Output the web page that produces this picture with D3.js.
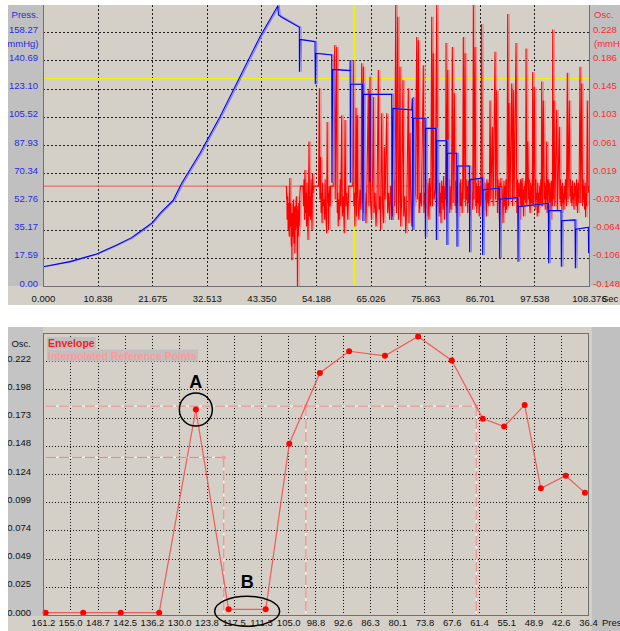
<!DOCTYPE html>
<html><head><meta charset="utf-8">
<script src="https://cdn.jsdelivr.net/npm/d3@7"></script>
<style>
html,body{margin:0;padding:0;background:#fff;}
svg{display:block;font-family:"Liberation Sans",Arial,sans-serif;}
</style></head>
<body>
<svg id="c" width="620" height="631"></svg>
<script>
// ---------- DATA: top chart (pressure + oscillation vs time) ----------
const timeTicks = ["0.000","10.838","21.675","32.513","43.350","54.188","65.026","75.863","86.701","97.538","108.376"];
const pressTicks = ["0.00","17.59","35.17","52.76","70.34","87.93","105.52","123.10","140.69","158.27"];
const oscTicksTop = ["-0.148","-0.106","-0.064","-0.023","0.019","0.061","0.103","0.145","0.186","0.228"];
const cursorTime = 61.8;      // yellow vertical cursor (s)
const cursorPress = 129.5;    // yellow horizontal cursor (mmHg)

// cuff pressure [time s, mmHg]
const pressSignal = [[0,12.0],[5.36,15.2],[10.66,20.0],[14.63,25.6],[17.5,30.0],[19.91,35.4],[21.7,39.5],[23.22,45.3],[25.86,53.6],[27.53,64.1],[29.52,74.4],[31.16,82.8],[35.13,105.6],[39.10,130.5],[43.07,155.5],[46.59,174.6],[46.75,169.0],[47.38,167.6],[50.88,161.3],[50.9,133.6],[51.0,153.8],[53.99,152.4],[54.05,125.8],[54.15,145.1],[57.31,144.1],[57.35,64.4],[57.5,135.1],[60.94,134.3],[60.97,140.9],[61.0,64.4],[61.05,125.8],[63.46,125.8],[63.5,40.5],[63.6,119.5],[64.85,119.5],[64.9,65.0],[64.95,119.5],[69.22,119.5],[69.25,41.2],[69.48,110.8],[73.2,109.8],[73.31,117.1],[73.4,34.9],[73.5,104.6],[75.83,104.6],[75.9,30.4],[75.97,98.3],[78.01,98.3],[78.08,28.7],[78.15,90.6],[80.13,90.6],[80.18,25.6],[80.25,82.8],[82.12,82.8],[82.18,24.5],[82.24,74.8],[84.62,74.8],[84.68,21.0],[84.76,66.1],[87.2,67.4],[87.27,19.3],[87.34,59.9],[90.58,61.1],[90.65,17.3],[90.72,54.1],[94.23,55.1],[94.29,15.2],[94.35,49.5],[100.30,51.6],[100.37,14.2],[100.44,47.0],[102.82,47.0],[102.89,12.0],[102.96,40.7],[105.60,41.2],[105.67,11.0],[105.74,35.4],[108.24,36.6],[108.3,20.4]];

// oscillation signal [time s, mmHg]
const oscSignal = [[48.3,0],[48.35,-0.02],[48.4,-0.010],[48.45,-0.050],[48.5,-0.040],[48.55,-0.015],[48.6,-0.020],[48.65,-0.065],[48.7,-0.060],[48.75,-0.025],[48.8,-0.030],[48.85,-0.070],[48.9,-0.075],[48.95,-0.010],[49.0,0.012],[49.05,-0.060],[49.1,-0.050],[49.15,-0.030],[49.2,-0.025],[49.25,-0.080],[49.3,-0.090],[49.35,-0.040],[49.4,-0.110],[49.45,-0.050],[49.5,-0.040],[49.55,-0.075],[49.6,-0.070],[49.65,-0.030],[49.7,-0.020],[49.75,-0.065],[49.8,-0.085],[49.85,-0.030],[49.9,-0.045],[49.95,-0.070],[50.0,-0.100],[50.05,-0.040],[50.1,-0.030],[50.15,-0.065],[50.2,-0.060],[50.25,-0.020],[50.3,-0.015],[50.35,-0.060],[50.4,-0.055],[50.45,-0.030],[50.5,-0.148],[50.55,-0.050],[50.6,-0.035],[50.65,-0.075],[50.7,-0.070],[50.75,-0.030],[50.8,-0.025],[50.85,-0.060],[50.9,-0.050],[50.95,-0.020],[51.0,-0.010],[51.1,0],[51.6,0],
[51.7,-0.030],[51.8,0.010],[51.9,-0.050],[52.0,0.024],[52.1,-0.040],[52.2,-0.010],[52.3,-0.060],[52.4,0.005],[52.5,-0.035],[52.6,-0.080],[52.7,-0.020],[52.8,0.066],[52.9,-0.045],[53.0,-0.015],[53.1,-0.050],[53.2,0.010],[53.3,-0.030],[53.4,-0.065],[53.5,0.019],[53.6,-0.010],[53.7,0],[54.7,0],
[54.85,0.145],[54.95,-0.020],[55.1,0.043],[55.2,-0.040],[55.3,-0.010],[55.4,-0.055],[55.5,0.005],[55.6,-0.030],[55.8,-0.020],[55.9,-0.050],[56.0,0.010],[56.1,-0.035],[56.3,-0.070],[56.4,0.095],[56.5,-0.025],[56.6,-0.010],[56.7,-0.065],[56.8,0.000],[57.0,-0.030],[57.1,0],[57.6,0],
[57.9,0.209],[58.0,-0.020],[58.3,0.206],[58.4,-0.040],[58.5,-0.010],[58.6,-0.060],[58.7,-0.020],[58.8,-0.050],[59.0,0.010],[59.1,-0.030],[59.29,0.105],[59.4,-0.045],[59.6,-0.015],[59.8,-0.070],[59.95,0.098],[60.1,-0.030],[60.3,-0.010],[60.5,-0.050],[60.7,0],[61.4,0],
[61.6,0.187],[61.7,-0.030],[61.8,-0.010],[61.9,-0.060],[62.0,-0.020],[62.13,0.116],[62.25,-0.045],[62.39,0.105],[62.5,-0.015],[62.7,-0.050],[62.9,-0.005],[63.1,-0.035],[63.26,0.182],[63.4,-0.025],[63.58,0.177],[63.7,-0.040],[63.9,-0.010],[64.1,-0.055],[64.3,0.005],[64.57,0.142],[64.7,-0.030],[64.91,0.162],[65.0,-0.020],[65.2,-0.050],[65.4,0.010],[65.57,0.132],[65.7,-0.040],[65.9,-0.010],[66.1,-0.060],[66.3,-0.020],[66.56,0.172],[66.7,-0.035],[66.9,-0.015],[67.0,-0.065],[67.23,0.108],[67.4,-0.030],[67.6,-0.055],[67.75,0.058],[67.9,-0.020],[68.22,0.108],[68.4,-0.040],[68.6,-0.010],[68.8,-0.050],[69.0,0.000],[69.2,-0.030],[69.4,-0.045],[69.6,0.010],[69.8,-0.030],
[70.01,0.270],[70.15,-0.040],[70.41,0.251],[70.55,-0.050],[70.7,-0.010],[70.86,0.177],[71.0,-0.060],[71.2,-0.020],[71.46,0.157],[71.6,-0.045],[71.8,-0.015],[72.0,-0.070],[72.2,-0.030],[72.51,0.145],[72.65,-0.055],[72.85,0.079],[73.0,-0.020],[73.2,-0.060],[73.5,0.132],[73.65,-0.030],[73.9,-0.010],[74.18,0.221],[74.3,-0.020],[74.5,0.216],[74.65,-0.040],[74.9,-0.010],[75.1,-0.030],[75.49,0.179],[75.6,-0.040],[75.8,-0.010],
[76.0,-0.035],[76.1,0.010],[76.2,-0.020],[76.3,-0.045],[76.4,0.005],[76.5,-0.020],[76.6,-0.050],[76.7,0.012],[76.8,-0.010],[76.9,-0.030],[77.0,0.005],
[77.16,0.251],[77.3,-0.030],[77.47,0.197],[77.6,-0.020],[77.9,-0.005],[78.15,0.270],
[78.3,-0.030],[78.4,0.010],[78.5,-0.015],[78.6,-0.045],[78.7,0.005],[78.8,-0.040],[78.9,-0.010],[79.0,-0.055],[79.1,0.008],[79.2,-0.025],[79.3,0.000],[79.4,-0.035],[79.5,0.015],[79.6,-0.020],[79.7,-0.050],[79.8,0.000],[79.9,-0.020],
[80.0,0.212],[80.15,-0.030],[80.33,0.172],
[80.5,-0.020],[80.6,0.010],[80.7,-0.040],[80.8,0.000],[80.9,-0.025],[81.0,-0.035],[81.1,0.005],
[81.25,0.206],[81.4,-0.025],[81.64,0.138],
[81.8,-0.030],[81.9,0.008],[82.0,-0.040],[82.1,0.000],[82.2,-0.025],[82.3,0.012],[82.4,-0.020],[82.5,-0.045],[82.6,0.005],[82.7,0.000],[82.8,-0.030],[82.9,0.010],[83.0,-0.030],[83.1,-0.010],[83.2,-0.040],[83.3,0.000],
[83.43,0.221],[83.55,-0.020],[83.77,0.197],
[83.9,-0.030],[84.0,0.010],[84.1,-0.020],[84.2,0.000],[84.3,-0.040],[84.4,0.008],[84.5,-0.025],[84.6,-0.005],[84.7,-0.045],[84.8,0.000],[84.9,-0.020],[85.0,0.012],[85.1,-0.030],[85.2,-0.010],[85.3,-0.035],
[85.42,0.270],[85.55,-0.020],[85.75,0.206],
[85.9,-0.030],[86.0,0.005],[86.1,-0.040],[86.2,0.000],[86.3,-0.025],[86.4,0.010],[86.5,-0.020],[86.6,-0.045],[86.7,0.000],[86.8,-0.015],[86.9,-0.030],
[87.04,0.240],
[87.2,-0.020],[87.3,0.010],[87.4,0.000],[87.5,-0.030],[87.6,-0.036],[87.7,0.005],[87.8,-0.020],[87.9,-0.010],[88.0,-0.045],[88.1,0.010],[88.2,0.000],[88.3,-0.025],[88.4,0.005],[88.5,-0.030],[88.6,-0.010],
[88.73,0.127],[88.9,-0.020],[89.19,0.088],[89.35,-0.030],[89.72,0.199],[89.85,-0.020],[90.06,0.142],
[90.2,-0.040],[90.3,0.010],[90.4,-0.020],[90.5,0.000],[90.6,-0.050],[90.7,0.005],[90.8,-0.025],[90.9,0.012],[91.0,-0.035],[91.1,0.000],[91.2,-0.020],[91.3,-0.055],[91.4,-0.020],[91.5,0.008],[91.6,-0.030],[91.7,0.000],[91.8,-0.040],[91.9,0.010],[92.0,-0.035],[92.1,-0.010],
[92.24,0.255],[92.4,-0.030],[92.5,0.123],[92.7,-0.020],[93.04,0.152],[93.2,-0.030],[93.35,0.142],[93.5,-0.020],[93.89,0.212],
[94.05,-0.040],[94.15,0.010],[94.3,0.000],[94.4,-0.035],[94.5,0.005],[94.6,-0.025],[94.7,-0.050],[94.8,0.010],[94.9,0.000],[95.0,-0.030],[95.1,0.012],[95.2,-0.030],[95.3,-0.005],[95.4,-0.045],[95.5,0.000],[95.6,-0.020],[95.7,0.008],[95.8,-0.025],
[95.88,0.204],[96.05,-0.030],[96.21,0.066],
[96.4,-0.020],[96.5,0.010],[96.6,-0.030],[96.7,-0.040],[96.8,0.005],[96.9,-0.025],[97.0,0.000],[97.1,-0.030],
[97.2,0.169],[97.35,-0.030],[97.52,0.147],
[97.7,-0.035],[97.8,0.010],[97.9,-0.020],[98.0,-0.010],[98.1,-0.045],[98.2,0.005],[98.3,-0.040],[98.4,-0.010],[98.5,-0.030],[98.6,0.000],[98.7,-0.025],[98.8,0.010],[98.9,-0.030],
[98.99,0.155],[99.15,-0.030],[99.31,0.127],
[99.5,-0.020],[99.6,0.005],[99.7,-0.035],[99.8,0.000],[99.9,-0.020],[99.98,0.066],[100.05,-0.040],[100.15,-0.030],[100.25,0.010],[100.4,0.000],[100.5,-0.035],[100.6,0.005],[100.7,-0.025],[100.8,-0.050],[100.9,0.008],[101.0,0.000],[101.1,-0.030],
[101.18,0.232],[101.3,-0.020],[101.43,0.127],[101.6,-0.030],[101.97,0.113],[102.1,-0.036],[102.49,0.088],
[102.6,-0.020],[102.7,0.010],[102.8,-0.030],[102.9,0.000],[103.0,-0.040],[103.1,0.005],[103.2,-0.025],[103.3,-0.010],[103.4,-0.035],[103.5,0.000],[103.6,-0.020],[103.7,0.010],[103.8,-0.010],[103.9,-0.030],
[104.07,0.168],[104.2,-0.020],[104.47,0.127],
[104.6,-0.015],[104.7,0.010],[104.8,-0.025],[104.9,0.000],[105.0,-0.030],[105.1,0.008],[105.2,-0.020],[105.3,-0.010],[105.4,-0.035],[105.5,0.005],[105.6,-0.015],[105.7,0.000],[105.8,-0.030],[105.9,0.010],[106.0,-0.020],[106.1,-0.040],[106.2,0.005],[106.3,0.000],[106.4,-0.025],
[106.59,0.177],[106.75,-0.025],[106.93,0.152],
[107.1,-0.030],[107.2,0.010],[107.3,-0.020],[107.4,0.000],[107.5,-0.035],[107.6,0.005],[107.7,-0.046],[107.8,-0.010],[107.9,-0.030],
[108.04,0.127],[108.2,-0.010],[108.376,0.000]];

// ---------- DATA: bottom chart (envelope vs pressure) ----------
const envTicksX = ["161.2","155.0","148.7","142.5","136.2","130.0","123.8","117.5","111.3","105.0","98.8","92.6","86.3","80.1","73.8","67.6","61.4","55.1","48.9","42.6","36.4"];
const envTicksY = ["0.000","0.025","0.049","0.074","0.099","0.124","0.148","0.173","0.198","0.222"];
const envPress = [160.6,152.0,143.4,134.6,126.2,118.7,110.2,104.8,97.8,91.1,82.9,75.3,67.6,60.5,55.6,50.9,47.2,41.5,37.1];
const envOsc   = [0.002,0.002,0.002,0.002,0.180,0.005,0.005,0.150,0.212,0.231,0.227,0.244,0.223,0.172,0.165,0.184,0.111,0.122,0.107];
const refPress = [119.8,101.0,62.0];
const refOsc   = [0.138,0.183,0.183];
const legendLabels = ["Envelope","Interpolated Reference Points"];
const annotLabels = ["A","B"];

// ---------- DRAW ----------
const svg = d3.select("#c");
const F = 9.5;

svg.append("clipPath").attr("id","clipLeft").append("rect").attr("x",8).attr("y",0).attr("width",612).attr("height",631);
svg.append("clipPath").attr("id","clipRow").append("rect").attr("x",31).attr("y",0).attr("width",589).attr("height",631);

// ===== TOP PANEL =====
const T = {l:43, r:589, t:5, b:286};
const xT = d3.scaleLinear([0,108.376],[T.l,T.r]);
const yP = d3.scaleLinear([0,175.86],[T.b,4]);
const yO = d3.scaleLinear([-0.148,0.2698],[T.b,4]);

svg.append("rect").attr("x",8).attr("y",T.t).attr("width",T.l-8).attr("height",T.b-T.t).attr("fill","#c0c0c0");
svg.append("rect").attr("x",T.r).attr("y",T.t).attr("width",620-T.r).attr("height",T.b-T.t).attr("fill","#c0c0c0");
svg.append("rect").attr("x",8).attr("y",T.b).attr("width",612).attr("height",19).attr("fill","#d4d0c8");
svg.append("rect").attr("x",T.l).attr("y",T.t).attr("width",T.r-T.l).attr("height",T.b-T.t).attr("fill","#d4d0c8");

const gT = svg.append("g");
const tStep = 108.376/10, pStep = 175.86/10;
gT.selectAll("line.hg").data(d3.range(1,10)).join("line")
  .attr("x1",T.l).attr("x2",T.r).attr("y1",d=>Math.round(yP(d*pStep))+0.5).attr("y2",d=>Math.round(yP(d*pStep))+0.5)
  .attr("stroke","#222").attr("stroke-dasharray","2,2").attr("shape-rendering","crispEdges");
gT.selectAll("line.vg").data(d3.range(1,10)).join("line")
  .attr("y1",T.t).attr("y2",T.b).attr("x1",d=>Math.round(xT(d*tStep))+0.5).attr("x2",d=>Math.round(xT(d*tStep))+0.5)
  .attr("stroke","#222").attr("stroke-dasharray","2,2").attr("shape-rendering","crispEdges");

svg.append("clipPath").attr("id","clipT").append("rect").attr("x",T.l).attr("y",T.t).attr("width",T.r-T.l).attr("height",T.b-T.t);
const pT = svg.append("g").attr("clip-path","url(#clipT)");
pT.append("line").attr("x1",T.l).attr("x2",T.r).attr("y1",Math.round(yP(cursorPress))+0.5).attr("y2",Math.round(yP(cursorPress))+0.5).attr("stroke","#f4f400").attr("stroke-width",1.2);
pT.append("line").attr("y1",T.t).attr("y2",T.b).attr("x1",Math.round(xT(cursorTime))+0.5).attr("x2",Math.round(xT(cursorTime))+0.5).attr("stroke","#f4f400").attr("stroke-width",1.2);
pT.append("line").attr("x1",T.l).attr("x2",T.r).attr("y1",yO(0)).attr("y2",yO(0)).attr("stroke","#f06a6a").attr("stroke-width",1.3);

const lineO = d3.line().x(d=>xT(d[0])).y(d=>yO(d[1]));
const lineP = d3.line().x(d=>xT(d[0])).y(d=>yP(d[1]));
pT.append("path").attr("d",lineO(oscSignal)).attr("fill","none").attr("stroke","#f08a8a").attr("stroke-width",1.2).attr("transform","translate(1.6,0)");
pT.append("path").attr("d",lineO(oscSignal)).attr("fill","none").attr("stroke","#ff0000").attr("stroke-width",1.1);
pT.append("path").attr("d",lineP(pressSignal)).attr("fill","none").attr("stroke","#8080ff").attr("stroke-width",1.2).attr("transform","translate(1.6,0)");
pT.append("path").attr("d",lineP(pressSignal)).attr("fill","none").attr("stroke","#0000ee").attr("stroke-width",1.1);

svg.append("line").attr("x1",T.l+0.5).attr("x2",T.l+0.5).attr("y1",T.t).attr("y2",T.b+1).attr("stroke","#707070");
svg.append("line").attr("x1",T.l).attr("x2",T.r+1).attr("y1",T.b+0.5).attr("y2",T.b+0.5).attr("stroke","#707070");
svg.append("line").attr("x1",T.r+0.5).attr("x2",T.r+0.5).attr("y1",T.t).attr("y2",T.b+1).attr("stroke","#707070");

const wrapL = svg.append("g").attr("clip-path","url(#clipLeft)");
const axL = wrapL.append("g").attr("transform",`translate(${T.l},-3)`)
  .call(d3.axisLeft(yP).tickValues(d3.range(0,10).map(i=>i*pStep)).tickFormat((d,i)=>pressTicks[i]).tickSize(0).tickPadding(5));
axL.select(".domain").remove();
axL.selectAll("text").attr("fill","#2a2ae0").style("font-size",F+"px");
const axR = svg.append("g").attr("transform",`translate(${T.r},-3)`)
  .call(d3.axisRight(yO).tickValues(d3.range(0,10).map(i=>-0.148+i*0.041778)).tickFormat((d,i)=>oscTicksTop[i]).tickSize(0).tickPadding(4));
axR.select(".domain").remove();
axR.selectAll("text").attr("fill","#ff2a2a").style("font-size",F+"px");
const axB = svg.append("g").attr("transform",`translate(0,${T.b})`)
  .call(d3.axisBottom(xT).tickValues(d3.range(0,11).map(i=>i*tStep)).tickFormat((d,i)=>timeTicks[i]).tickSize(0).tickPadding(9));
axB.select(".domain").remove();
axB.selectAll("text").attr("fill","#111").style("font-size",F+"px");
svg.append("text").attr("x",602).attr("y",302).attr("font-size",F).attr("fill","#111").text("Sec");
wrapL.append("text").attr("x",38.5).attr("y",17.5).attr("text-anchor","end").attr("font-size",F).attr("fill","#2a2ae0").text("Press.");
wrapL.append("text").attr("x",38.5).attr("y",46.5).attr("text-anchor","end").attr("font-size",F).attr("fill","#2a2ae0").text("(mmHg)");
svg.append("text").attr("x",594).attr("y",17.5).attr("font-size",F).attr("fill","#ff2a2a").text("Osc.");
svg.append("text").attr("x",594).attr("y",46.5).attr("font-size",F).attr("fill","#ff2a2a").text("(mmHg)");

// ===== BOTTOM PANEL =====
const B = {l:43, r:588, t:333, b:615};
const xB = d3.scaleLinear([161.2,36.4],[B.l,B.r]);
const yB = d3.scaleLinear([0,0.247],[B.b,B.t]);
svg.append("rect").attr("x",8).attr("y",327).attr("width",592-8).attr("height",631-327).attr("fill","#d4d0c8");
svg.append("rect").attr("x",8).attr("y",327).attr("width",B.l-8).attr("height",B.b-327+1).attr("fill","#c4c4c4");
svg.append("rect").attr("x",592).attr("y",327).attr("width",28).attr("height",304).attr("fill","#c0c0c0");

const xStep = (161.2-36.4)/20, yStep = 0.247/10;
const gB = svg.append("g");
gB.selectAll("line.hg").data(d3.range(1,10)).join("line")
  .attr("x1",B.l).attr("x2",B.r).attr("y1",d=>Math.round(yB(d*yStep))+0.5).attr("y2",d=>Math.round(yB(d*yStep))+0.5)
  .attr("stroke","#111").attr("stroke-dasharray","1,2").attr("shape-rendering","crispEdges");
gB.selectAll("line.vg").data(d3.range(1,20)).join("line")
  .attr("y1",B.t).attr("y2",B.b).attr("x1",d=>Math.round(xB(161.2-d*xStep))+0.5).attr("x2",d=>Math.round(xB(161.2-d*xStep))+0.5)
  .attr("stroke","#111").attr("stroke-dasharray","1,2").attr("shape-rendering","crispEdges");

const refG = svg.append("g");
const hRefs = [{p:refPress[0],o:refOsc[0]},{p:refPress[2],o:refOsc[2]}];
function dashed(x1,y1,x2,y2){
  refG.append("line").attr("x1",x1).attr("y1",y1).attr("x2",x2).attr("y2",y2).attr("stroke","#f6f6f6").attr("stroke-width",1.3);
  refG.append("line").attr("x1",x1).attr("y1",y1).attr("x2",x2).attr("y2",y2).attr("stroke","#f08888").attr("stroke-width",1.3).attr("stroke-dasharray","10,3");
}
hRefs.forEach(r=>dashed(B.l+3, yB(r.o), xB(r.p), yB(r.o)));
refPress.forEach((p,i)=>dashed(xB(p), yB(refOsc[i]), xB(p), B.b));
refG.selectAll("circle").data(refPress).join("circle").attr("cx",d=>xB(d)).attr("cy",(d,i)=>yB(refOsc[i])).attr("r",2).attr("fill","#f29a9a");

const env = envPress.map((p,i)=>[p,envOsc[i]]);
svg.append("path").attr("d",d3.line().x(d=>xB(d[0])).y(d=>yB(d[1]))(env)).attr("fill","none").attr("stroke","#f05a5a").attr("stroke-width",1.2);
svg.selectAll("circle.env").data(env).join("circle").attr("class","env").attr("cx",d=>xB(d[0])).attr("cy",d=>yB(d[1])).attr("r",3).attr("fill","#ff0000");

svg.append("rect").attr("x",B.l+0.5).attr("y",B.t+0.5).attr("width",B.r-B.l).attr("height",B.b-B.t).attr("fill","none").attr("stroke","#707070");

const lg = svg.append("g");
const lgColors = ["#ff1a1a","#ff9a9a"];
legendLabels.forEach((t,i)=>{
  const tx = lg.append("text").attr("x",48).attr("y",347+i*12.5).attr("font-size",10.5).attr("font-weight","bold").attr("fill",lgColors[i]).text(t);
  const bb = tx.node().getBBox();
  lg.insert("rect","text").attr("x",bb.x-1).attr("y",bb.y).attr("width",bb.width+2).attr("height",bb.height).attr("fill","#c0c0c0");
});

const an = svg.append("g");
const aPt = [envPress[4],envOsc[4]];
an.append("circle").attr("cx",xB(aPt[0])).attr("cy",yB(aPt[1])).attr("r",16.5).attr("fill","none").attr("stroke","#000").attr("stroke-width",1.5);
an.append("text").attr("x",xB(aPt[0])).attr("y",388).attr("text-anchor","middle").attr("font-size",18).attr("font-weight","bold").text(annotLabels[0]);
const bx = (xB(envPress[5])+xB(envPress[6]))/2;
an.append("ellipse").attr("cx",bx).attr("cy",yB(envOsc[5])+2).attr("rx",32.5).attr("ry",15).attr("fill","none").attr("stroke","#000").attr("stroke-width",1.5);
an.append("text").attr("x",bx).attr("y",588).attr("text-anchor","middle").attr("font-size",18).attr("font-weight","bold").text(annotLabels[1]);

const wrapBL = svg.append("g").attr("clip-path","url(#clipLeft)");
const bL = wrapBL.append("g").attr("transform",`translate(${B.l},-3)`)
  .call(d3.axisLeft(yB).tickValues(d3.range(0,10).map(i=>i*yStep)).tickFormat((d,i)=>envTicksY[i]).tickSize(0).tickPadding(12));
bL.select(".domain").remove();
bL.selectAll("text").attr("fill","#111").style("font-size",F+"px");
const wrapBB = svg.append("g").attr("clip-path","url(#clipRow)");
const bB = wrapBB.append("g").attr("transform",`translate(0,${B.b})`)
  .call(d3.axisBottom(xB).tickValues(d3.range(0,21).map(i=>161.2-i*xStep)).tickFormat((d,i)=>envTicksX[i]).tickSize(0).tickPadding(4));
bB.select(".domain").remove();
bB.selectAll("text").attr("fill","#111").style("font-size",F+"px");
svg.append("text").attr("x",602).attr("y",626).attr("font-size",F).attr("fill","#111").text("Pres");
svg.append("text").attr("x",31).attr("y",346.5).attr("text-anchor","end").attr("font-size",F).attr("fill","#111").text("Osc.");
</script>
</body></html>
